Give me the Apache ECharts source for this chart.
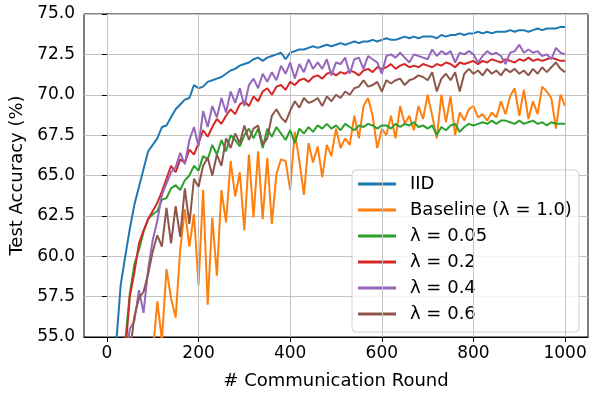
<!DOCTYPE html>
<html>
<head>
<meta charset="utf-8">
<script src="https://cdn.jsdelivr.net/npm/echarts@6/dist/echarts.min.js"></script>
<style>
  html, body { margin: 0; padding: 0; background: #fff; }
  #chart { width: 590px; height: 395px; }
</style>
</head>
<body>
<div id="chart"></div>
<script>
// rounds sampled every 10 communication rounds
const rounds = Array.from({ length: 100 }, (_, i) => (i + 1) * 10);

const xTicks = [0, 200, 400, 600, 800, 1000];
const yTicks = [55.0, 57.5, 60.0, 62.5, 65.0, 67.5, 70.0, 72.5, 75.0];

const seriesNames = ['IID', 'Baseline (λ = 1.0)', 'λ = 0.05', 'λ = 0.2', 'λ = 0.4', 'λ = 0.6'];

const iid = [
  50.0, 54.5, 58.2, 60.0, 61.7, 63.2, 64.3, 65.4, 66.5, 66.9,
  67.3, 68.0, 68.1, 68.6, 69.1, 69.4, 69.7, 69.8, 70.6, 70.4,
  70.5, 70.8, 70.9, 71.0, 71.1, 71.3, 71.5, 71.6, 71.8, 71.9,
  72.0, 72.2, 72.3, 72.1, 72.3, 72.4, 72.5, 72.6, 72.2, 72.6,
  72.7, 72.8, 72.8, 72.9, 73.0, 72.9, 73.0, 73.1, 73.0, 73.1,
  73.2, 73.1, 73.2, 73.3, 73.2, 73.3, 73.3, 73.4, 73.3, 73.4,
  73.5, 73.4, 73.4, 73.5, 73.6, 73.5, 73.6, 73.5, 73.6, 73.6,
  73.6, 73.5, 73.7, 73.6, 73.7, 73.7, 73.8, 73.7, 73.8, 73.8,
  73.9, 73.8, 73.9, 73.8, 73.9, 73.9, 73.9, 74.0, 73.9, 74.0,
  74.0, 73.9, 74.0, 74.1, 74.0, 74.1, 74.1, 74.1, 74.2, 74.2
];

const baseline = [
  40.0, 42.0, 44.0, 46.0, 47.5, 49.0, 50.0, 51.5, 52.5, 54.0,
  57.2, 54.8, 59.2, 57.4, 56.2, 60.4, 62.9, 60.6, 62.6, 58.2,
  64.1, 57.0, 62.4, 58.8, 64.1, 62.1, 65.9, 63.7, 65.2, 61.6,
  66.3, 62.4, 66.5, 62.3, 66.1, 62.0, 65.1, 66.0, 65.9, 64.1,
  67.7, 65.9, 63.8, 67.0, 65.8, 66.8, 64.9, 66.9, 66.2, 67.9,
  66.7, 67.3, 66.9, 68.7, 67.3, 69.3, 69.8, 68.7, 66.7, 67.9,
  67.5, 68.7, 67.3, 69.3, 68.2, 68.7, 67.8, 69.3, 68.5, 70.0,
  68.7, 67.3, 70.0, 68.3, 69.9, 67.5, 68.9, 68.4, 69.1, 69.3,
  68.6, 68.8, 68.4, 68.9, 68.6, 69.6, 68.8, 69.9, 70.4, 68.7,
  70.3, 68.5, 69.6, 68.8, 70.5, 70.2, 69.8, 67.9, 70.0, 69.3
];

const lam005 = [
  48.0, 51.0, 53.0, 54.7, 57.7, 59.5, 60.4, 61.5, 62.3, 62.6,
  62.8, 63.5, 63.6, 64.2, 64.4, 64.1, 64.7, 65.0, 65.6, 65.3,
  66.2, 66.0, 66.9, 66.3, 67.2, 66.5, 67.5, 67.2, 66.8, 67.5,
  67.9, 67.3, 67.9, 66.7, 67.9, 67.4, 68.0, 67.6, 67.2, 67.8,
  67.0, 67.9, 67.6, 68.0, 67.7, 68.1, 67.9, 68.2, 67.9, 68.1,
  67.8, 68.2, 68.0, 67.8, 68.1, 68.0, 68.2, 68.1, 67.9, 68.1,
  68.1, 67.9, 68.2, 68.0, 68.2, 68.1, 68.3, 68.0, 68.1, 67.9,
  68.1, 67.5, 68.0, 67.8, 68.1, 68.2, 67.7, 68.0, 68.2, 68.1,
  68.2, 68.3, 68.2, 68.4, 68.2, 68.4, 68.4, 68.3, 68.2, 68.4,
  68.2, 68.3, 68.4, 68.2, 68.3, 68.1, 68.3, 68.2, 68.2, 68.2
];

const lam02 = [
  47.0, 50.0, 52.0, 54.0, 57.5, 59.0, 60.8, 61.6, 62.3, 62.8,
  63.3, 64.0, 64.8, 65.6, 65.2, 66.0, 65.8, 66.6, 66.3, 67.0,
  67.8, 67.4, 68.0, 68.5, 68.2, 68.7, 69.1, 68.8, 69.4, 69.6,
  69.3, 69.9, 69.6, 70.2, 70.4, 70.0, 70.5, 70.6, 70.3, 70.8,
  70.6, 70.9, 71.0, 70.8, 71.1, 71.2, 71.0, 71.3, 71.4, 71.2,
  71.4, 71.3, 71.5, 71.4, 71.2, 71.5, 71.6, 71.4, 71.7, 71.6,
  71.7, 71.9, 71.6, 71.8, 71.9, 71.7, 71.8, 71.7, 71.9, 71.8,
  71.7, 71.9, 71.8, 72.0, 71.9, 71.7, 72.0, 71.9, 72.0, 72.1,
  71.9, 72.1, 72.0, 72.2, 72.1, 72.0, 72.2, 72.1, 72.0, 72.2,
  72.1, 72.3, 72.1, 72.2, 72.1, 72.2, 72.3, 72.2, 72.1, 72.1
];

const lam04 = [
  46.0, 49.0, 51.5, 53.5, 55.5, 56.0, 57.9, 56.5, 59.2, 61.0,
  62.2, 63.8, 64.5, 65.2, 65.5, 66.4, 65.7, 67.2, 68.0, 66.8,
  69.0, 68.0, 69.3, 68.6, 69.8, 68.9, 70.2, 69.5, 70.4, 69.3,
  70.6, 71.0, 70.4, 71.3, 70.8, 71.4, 70.9, 71.8, 71.3, 72.0,
  71.0, 71.9, 71.4, 72.2, 71.6, 72.0, 71.6, 72.2, 71.2, 72.0,
  71.9, 72.3, 71.3, 72.2, 72.3, 71.6, 72.4, 72.2, 72.0, 71.3,
  72.4, 72.5, 72.3, 72.6, 72.3, 72.0, 72.5, 72.4, 72.3, 72.2,
  72.8, 72.4, 72.7, 72.5, 72.7, 72.0, 72.6, 72.5, 72.7, 72.5,
  72.0, 72.4, 72.7, 72.5, 72.6, 72.4, 71.9, 72.6, 72.7, 73.1,
  72.6, 72.8, 72.6, 72.7, 72.4, 72.5, 72.2, 72.9, 72.6, 72.5
];

const lam06 = [
  45.0, 47.5, 50.0, 52.0, 54.0, 56.3, 57.4, 57.8, 58.9, 60.3,
  61.3, 60.6, 63.0, 60.8, 63.1, 61.2, 64.2, 62.0, 64.8, 64.3,
  65.6, 66.1, 65.0, 66.3, 65.6, 67.3, 66.7, 67.6, 67.0, 68.1,
  67.2, 67.9, 68.1, 66.9, 67.3, 68.7, 69.1, 68.6, 68.3, 69.0,
  69.6, 69.2, 69.8, 69.5, 69.6, 69.8, 69.3, 69.9, 69.6, 70.0,
  69.8, 70.2, 70.0, 70.4, 70.5, 70.9, 70.5, 70.6, 70.8, 70.2,
  70.9, 70.7, 70.9, 71.0, 70.6, 70.9, 71.0, 71.2, 71.1, 70.9,
  71.4, 70.2, 71.0, 71.3, 70.9, 71.4, 70.2, 71.3, 71.6, 71.3,
  71.5, 71.2, 71.6, 71.3, 71.5, 71.2, 71.6, 71.4, 71.6, 71.3,
  71.5, 71.2, 71.6, 71.3, 71.7, 71.4, 71.7, 72.0, 71.6, 71.4
];

const allValues = [iid, baseline, lam005, lam02, lam04, lam06];
// matplotlib tab10
const colors = ['#1f77b4', '#ff7f0e', '#2ca02c', '#d62728', '#9467bd', '#8c564b'];

const FONT = 'DejaVu Sans';
const GRID_COLOR = '#c4c4c4';
const chart = echarts.init(document.getElementById('chart'), null, { renderer: 'canvas' });

const lineSeries = seriesNames.map((name, i) => ({
  name,
  type: 'line',
  data: rounds.map((r, j) => [r, allValues[i][j]]),
  showSymbol: false,
  symbol: 'none',
  clip: true,
  color: colors[i],
  lineStyle: { color: colors[i], width: 2 },
  z: 3 + i
}));

// vertical grid lines at the x ticks (axis min is -50, so split lines can't follow interval)
lineSeries.push({
  name: 'xgrid',
  type: 'line',
  data: [],
  silent: true,
  z: 1,
  markLine: {
    silent: true,
    symbol: ['none', 'none'],
    label: { show: false },
    animation: false,
    lineStyle: { color: GRID_COLOR, width: 1, type: 'solid' },
    data: xTicks.map(v => ({ xAxis: v }))
  }
});

const option = {
  animation: false,
  textStyle: { fontFamily: FONT },
  grid: {
    left: 84, right: 2, top: 14, bottom: 53,
    show: true,
    borderColor: '#000',
    borderWidth: 1,
    backgroundColor: 'transparent'
  },
  xAxis: {
    type: 'value',
    min: -50,
    max: 1050,
    name: '# Communication Round',
    nameLocation: 'middle',
    nameGap: 35,
    nameTextStyle: { fontSize: 18, color: '#000', fontFamily: FONT },
    axisLine: { show: true, onZero: false, lineStyle: { color: '#000', width: 1 } },
    axisTick: { show: true, length: 5, customValues: xTicks, lineStyle: { color: '#000' } },
    axisLabel: {
      fontSize: 17, color: '#000', margin: 8, fontFamily: FONT,
      customValues: xTicks,
      formatter: v => String(v),
      showMinLabel: true, showMaxLabel: true
    },
    splitLine: { show: false }
  },
  yAxis: {
    type: 'value',
    min: yTicks[0],
    max: yTicks[yTicks.length - 1],
    interval: 2.5,
    name: 'Test Accuracy (%)',
    nameLocation: 'middle',
    nameGap: 58,
    nameTextStyle: { fontSize: 18, color: '#000', fontFamily: FONT },
    axisLine: { show: true, lineStyle: { color: '#000', width: 1 } },
    axisTick: { show: true, length: 5, lineStyle: { color: '#000' } },
    axisLabel: {
      fontSize: 17, color: '#000', margin: 9, fontFamily: FONT,
      formatter: v => v.toFixed(1)
    },
    splitLine: { show: true, lineStyle: { color: GRID_COLOR, width: 1 } }
  },
  legend: {
    orient: 'vertical',
    left: 352,
    top: 170,
    icon: 'rect',
    itemWidth: 38,
    itemHeight: 3,
    itemGap: 6,
    padding: [4, 7, 8, 6],
    backgroundColor: 'rgba(255,255,255,0.85)',
    borderColor: '#d0d0d0',
    borderWidth: 1,
    borderRadius: 4,
    textStyle: {
      fontSize: 18, color: '#000', fontFamily: FONT,
      lineHeight: 20, padding: [0, 0, 0, 9]
    },
    data: seriesNames
  },
  series: lineSeries
};

chart.setOption(option);
</script>
</body>
</html>
